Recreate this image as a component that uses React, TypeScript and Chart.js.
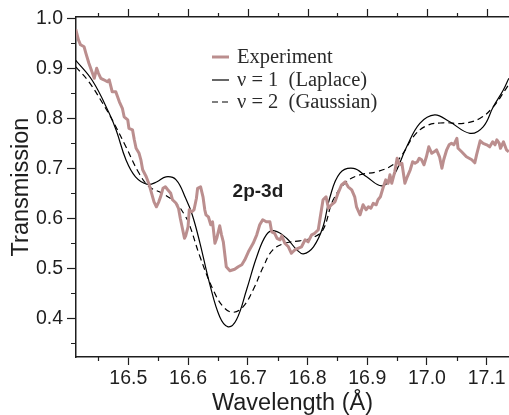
import React, { useEffect, useRef } from "react";
import { Chart, registerables } from "chart.js";

Chart.register(...registerables);

// Measured transmission spectrum (2p-3d band)
const EXP_WAVELENGTH = [
  16.412, 16.4165, 16.42, 16.426, 16.429, 16.434, 16.44, 16.443, 16.447, 16.45,
  16.454, 16.459, 16.465, 16.468, 16.471, 16.473, 16.479, 16.482, 16.485, 16.49,
  16.493, 16.499, 16.501, 16.507, 16.51, 16.513, 16.518, 16.521, 16.524, 16.53,
  16.535, 16.539, 16.543, 16.547, 16.551, 16.554, 16.558, 16.562, 16.566, 16.571,
  16.574, 16.58, 16.584, 16.587, 16.591, 16.594, 16.596, 16.6, 16.602, 16.606,
  16.61, 16.614, 16.616, 16.621, 16.625, 16.628, 16.63, 16.634, 16.638, 16.641,
  16.645, 16.648, 16.653, 16.656, 16.659, 16.662, 16.664, 16.67, 16.678, 16.684,
  16.69, 16.695, 16.701, 16.709, 16.715, 16.72, 16.725, 16.731, 16.737, 16.74,
  16.745, 16.749, 16.754, 16.757, 16.762, 16.768, 16.773, 16.779, 16.784, 16.79,
  16.796, 16.801, 16.807, 16.812, 16.818, 16.821, 16.826, 16.831, 16.835, 16.84,
  16.846, 16.851, 16.857, 16.863, 16.868, 16.874, 16.879, 16.882, 16.888, 16.893,
  16.898, 16.902, 16.906, 16.91, 16.915, 16.918, 16.922, 16.927, 16.931, 16.935,
  16.938, 16.941, 16.946, 16.95, 16.954, 16.958, 16.963, 16.967, 16.972, 16.976,
  16.98, 16.984, 16.987, 16.991, 16.995, 16.999, 17.003, 17.008, 17.012, 17.016,
  17.021, 17.025, 17.028, 17.033, 17.037, 17.041, 17.045, 17.05, 17.052, 17.058,
  17.066, 17.075, 17.08, 17.083, 17.089, 17.094, 17.1, 17.105, 17.11, 17.114,
  17.117, 17.121, 17.123, 17.128, 17.133, 17.137,
];
const EXP_TRANSMISSION = [
  0.978, 0.957, 0.947, 0.943, 0.93, 0.91, 0.89, 0.88, 0.9, 0.89,
  0.88, 0.877, 0.873, 0.877, 0.863, 0.853, 0.853, 0.843, 0.833, 0.82,
  0.803, 0.797, 0.78, 0.777, 0.757, 0.74, 0.73, 0.717, 0.697, 0.683,
  0.667, 0.65, 0.633, 0.623, 0.633, 0.643, 0.66, 0.663, 0.657, 0.65,
  0.637, 0.63, 0.62, 0.6, 0.577, 0.56, 0.565, 0.583, 0.617, 0.613,
  0.617, 0.64, 0.66, 0.663, 0.643, 0.617, 0.607, 0.603, 0.587, 0.593,
  0.55, 0.56, 0.585, 0.567, 0.553, 0.523, 0.503, 0.495, 0.498, 0.503,
  0.507, 0.517, 0.533, 0.55, 0.567, 0.587, 0.597, 0.593, 0.593, 0.573,
  0.57, 0.56, 0.557, 0.565, 0.55, 0.543, 0.53, 0.537, 0.54, 0.543,
  0.557, 0.553, 0.567, 0.57, 0.577, 0.6, 0.637, 0.643, 0.62, 0.627,
  0.633, 0.65, 0.667, 0.673, 0.663, 0.657, 0.643, 0.623, 0.607, 0.627,
  0.617, 0.623, 0.62, 0.63, 0.627, 0.637, 0.643, 0.663, 0.677, 0.67,
  0.687, 0.67, 0.693, 0.72, 0.707, 0.71, 0.67, 0.683, 0.697, 0.713,
  0.71, 0.713, 0.72, 0.717, 0.707, 0.723, 0.743, 0.73, 0.733, 0.737,
  0.723, 0.7, 0.717, 0.737, 0.747, 0.75, 0.747, 0.76, 0.74, 0.733,
  0.723, 0.717, 0.711, 0.727, 0.755, 0.75, 0.747, 0.743, 0.753, 0.747,
  0.757, 0.75, 0.74, 0.753, 0.737, 0.733,
];

// Model with ν = 1 (Laplace)
const LAPLACE_WAVELENGTH = [
  16.412, 16.44, 16.468, 16.48, 16.496, 16.512, 16.532, 16.548, 16.563, 16.58,
  16.596, 16.607, 16.62, 16.636, 16.653, 16.667, 16.681, 16.698, 16.715, 16.731,
  16.745, 16.765, 16.782, 16.793, 16.81, 16.826, 16.837, 16.854, 16.877, 16.899,
  16.924, 16.943, 16.966, 16.988, 17.013, 17.038, 17.072, 17.094, 17.111, 17.128,
  17.137,
];
const LAPLACE_TRANSMISSION = [
  0.916, 0.875, 0.81, 0.775, 0.717, 0.683, 0.668, 0.673, 0.683, 0.677,
  0.64, 0.607, 0.55, 0.47, 0.403, 0.383, 0.397, 0.457, 0.523, 0.567,
  0.575, 0.56, 0.537, 0.529, 0.543, 0.583, 0.64, 0.69, 0.7, 0.683,
  0.665, 0.683, 0.743, 0.79, 0.807, 0.793, 0.77, 0.783, 0.823, 0.857,
  0.88,
];

// Model with ν = 2 (Gaussian)
const GAUSS_WAVELENGTH = [
  16.412, 16.434, 16.457, 16.473, 16.496, 16.518, 16.535, 16.557, 16.58, 16.596,
  16.603, 16.62, 16.642, 16.659, 16.675, 16.692, 16.709, 16.726, 16.742, 16.765,
  16.787, 16.81, 16.826, 16.843, 16.865, 16.888, 16.916, 16.943, 16.96, 16.977,
  16.999, 17.027, 17.061, 17.089, 17.111, 17.131, 17.137,
];
const GAUSS_TRANSMISSION = [
  0.903, 0.873, 0.83, 0.797, 0.743, 0.69, 0.663, 0.65, 0.63, 0.603,
  0.585, 0.523, 0.457, 0.423, 0.412, 0.423, 0.457, 0.503, 0.537, 0.551,
  0.555, 0.562, 0.577, 0.637, 0.673, 0.687, 0.693, 0.707, 0.73, 0.763,
  0.785, 0.791, 0.79, 0.8, 0.823, 0.857, 0.868,
];

const X_TICKS = [16.5, 16.6, 16.7, 16.8, 16.9, 17.0, 17.1];
const X_MINOR = [16.45, 16.55, 16.65, 16.75, 16.85, 16.95, 17.05];
const Y_TICKS = [0.4, 0.5, 0.6, 0.7, 0.8, 0.9, 1.0];
const Y_MINOR = [0.35, 0.45, 0.55, 0.65, 0.75, 0.85, 0.95];

const X_RANGE = [16.4124, 17.1373];
const Y_RANGE = [0.3226, 1.0026];

const SERIES_LABELS = ["Experiment", "\u03bd = 1  (Laplace)", "\u03bd = 2  (Gaussian)"];
const BAND_LABEL = "2p-3d";

const SANS = '"Liberation Sans", Arial, Helvetica, sans-serif';
const SERIF = '"Liberation Serif", "Times New Roman", serif';
const INK = "#1e1e1e";
const EXP_COLOR = "#bb8e8e";

const zip = (xs: number[], ys: number[]) => xs.map((x, i) => ({ x, y: ys[i] }));

const decorPlugin = {
  id: "decor",
  afterDraw(chart: any) {
    const { ctx, chartArea: area } = chart;
    const xs = chart.scales.x;
    const ys = chart.scales.y;
    ctx.save();

    // major and minor tick marks on the top edge, minor ticks on bottom and left
    ctx.strokeStyle = INK;
    ctx.lineWidth = 1.2;
    ctx.beginPath();
    X_TICKS.forEach((v) => {
      const px = Math.round(xs.getPixelForValue(v)) + 0.5;
      ctx.moveTo(px, area.top);
      ctx.lineTo(px, area.top - 8);
    });
    X_MINOR.forEach((v) => {
      const px = Math.round(xs.getPixelForValue(v)) + 0.5;
      ctx.moveTo(px, area.bottom);
      ctx.lineTo(px, area.bottom + 4);
      ctx.moveTo(px, area.top);
      ctx.lineTo(px, area.top - 4);
    });
    Y_MINOR.forEach((v) => {
      const py = Math.round(ys.getPixelForValue(v)) + 0.5;
      ctx.moveTo(area.left, py);
      ctx.lineTo(area.left - 5, py);
    });
    ctx.stroke();

    // legend
    const lx = area.left + 136;
    const rows = [area.top + 40, area.top + 63, area.top + 85];
    chart.data.datasets.forEach((ds: any, i: number) => {
      const ry = rows[i];
      ctx.beginPath();
      ctx.strokeStyle = ds.borderColor;
      ctx.lineWidth = ds.borderWidth;
      ctx.setLineDash(ds.borderDash || []);
      ctx.moveTo(lx, ry);
      ctx.lineTo(lx + 17, ry);
      ctx.stroke();
      ctx.setLineDash([]);
      ctx.fillStyle = "#2a2a2a";
      ctx.font = `20.5px ${SERIF}`;
      ctx.textAlign = "left";
      ctx.textBaseline = "alphabetic";
      ctx.fillText(ds.label, lx + 25, ry + 6);
    });

    // band label
    ctx.fillStyle = INK;
    ctx.font = `bold 19px ${SANS}`;
    ctx.textAlign = "center";
    ctx.textBaseline = "alphabetic";
    ctx.fillText(BAND_LABEL, xs.getPixelForValue(16.717), ys.getPixelForValue(0.643));

    ctx.restore();
  },
};

export default function App() {
  const canvasRef = useRef<HTMLCanvasElement | null>(null);

  useEffect(() => {
    const canvas = canvasRef.current;
    if (!canvas) return;

    const tickFont = { family: SANS, size: 19.5 };
    const titleFont = { family: SANS, size: 23.5, lineHeight: 1 };

    const chart = new Chart(canvas, {
      type: "line",
      data: {
        datasets: [
          {
            label: SERIES_LABELS[0],
            data: zip(EXP_WAVELENGTH, EXP_TRANSMISSION),
            borderColor: EXP_COLOR,
            borderWidth: 3,
            pointRadius: 0,
            tension: 0,
            borderJoinStyle: "round",
          },
          {
            label: SERIES_LABELS[1],
            data: zip(LAPLACE_WAVELENGTH, LAPLACE_TRANSMISSION),
            borderColor: "#000000",
            borderWidth: 1.2,
            pointRadius: 0,
            tension: 0.4,
          },
          {
            label: SERIES_LABELS[2],
            data: zip(GAUSS_WAVELENGTH, GAUSS_TRANSMISSION),
            borderColor: "#000000",
            borderWidth: 1.2,
            borderDash: [6, 4],
            pointRadius: 0,
            tension: 0.4,
          },
        ],
      },
      options: {
        animation: false,
        responsive: false,
        devicePixelRatio: 1,
        layout: { padding: 0 },
        plugins: {
          legend: { display: false },
          tooltip: { enabled: false },
        },
        scales: {
          x: {
            type: "linear",
            position: "bottom",
            min: X_RANGE[0],
            max: X_RANGE[1],
            afterBuildTicks: (s: any) => {
              s.ticks = X_TICKS.map((value) => ({ value }));
            },
            afterFit: (s: any) => {
              s.height = 58;
            },
            border: { display: true, color: INK, width: 1.5 },
            grid: {
              drawOnChartArea: false,
              drawTicks: true,
              tickLength: 8,
              tickColor: INK,
              tickWidth: 1.2,
            },
            ticks: {
              font: tickFont,
              color: INK,
              padding: 2,
              maxRotation: 0,
              autoSkip: false,
              callback: (v: any) => Number(v).toFixed(1),
            },
            title: {
              display: true,
              text: "Wavelength (Å)",
              font: titleFont,
              color: INK,
              padding: { top: 0, bottom: 0 },
            },
          },
          xTop: {
            type: "linear",
            position: "top",
            min: X_RANGE[0],
            max: X_RANGE[1],
            afterBuildTicks: (s: any) => {
              s.ticks = X_TICKS.map((value) => ({ value }));
            },
            afterFit: (s: any) => {
              s.height = 17;
            },
            border: { display: true, color: INK, width: 1.5 },
            grid: { display: false },
            ticks: { display: false },
          },
          y: {
            type: "linear",
            position: "left",
            min: Y_RANGE[0],
            max: Y_RANGE[1],
            afterBuildTicks: (s: any) => {
              s.ticks = Y_TICKS.map((value) => ({ value }));
            },
            afterFit: (s: any) => {
              s.width = 76;
            },
            border: { display: true, color: INK, width: 1.5 },
            grid: {
              drawOnChartArea: false,
              drawTicks: true,
              tickLength: 9,
              tickColor: INK,
              tickWidth: 1.2,
            },
            ticks: {
              font: tickFont,
              color: INK,
              padding: 4,
              callback: (v: any) => Number(v).toFixed(1),
            },
            title: {
              display: true,
              text: "Transmission",
              font: titleFont,
              color: INK,
              padding: { top: 10, bottom: 0 },
            },
          },
        },
      },
      plugins: [decorPlugin],
    } as any);

    return () => chart.destroy();
  }, []);

  return (
    <div
      style={{
        position: "fixed",
        left: 0,
        top: 0,
        width: 509,
        height: 415,
        background: "#ffffff",
        overflow: "hidden",
      }}
    >
      <canvas ref={canvasRef} width={509} height={415} style={{ display: "block" }} />
    </div>
  );
}
